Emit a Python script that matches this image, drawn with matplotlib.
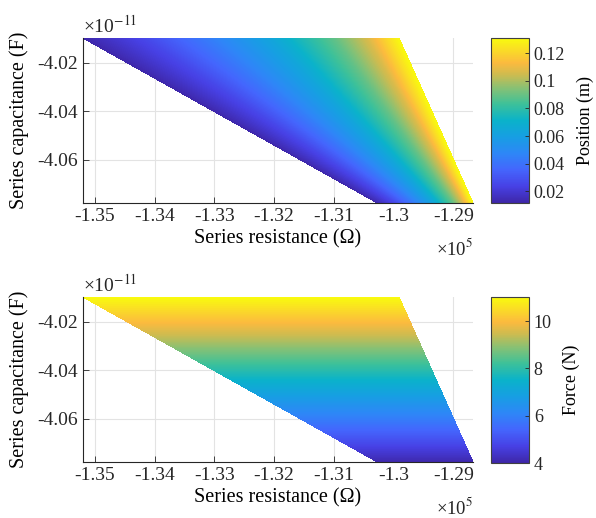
import numpy as np
import matplotlib
matplotlib.use("Agg")
import matplotlib.pyplot as plt
from matplotlib.colors import LinearSegmentedColormap, Normalize
from matplotlib.cm import ScalarMappable
from matplotlib.ticker import FuncFormatter, FormatStrFormatter

plt.rcParams['font.family'] = ['Liberation Serif', 'DejaVu Serif']
plt.rcParams['mathtext.fontset'] = 'stix'
plt.rcParams['axes.unicode_minus'] = False

# corners of the feasible region (series resistance, ohm)
res_top = [-1.3520e5, -1.2991e5]      # left / right end at the top capacitance
res_bottom = [-1.3027e5, -1.2867e5]   # left / right end at the bottom capacitance
cap_rows = [-4.0097e-11, -4.0267e-11, -4.0437e-11, -4.0608e-11, -4.0778e-11]
col_frac = [0.0, 0.2, 0.4, 0.6, 0.8, 0.9, 1.0]   # fraction across the region

position = [0.012, 0.026, 0.044, 0.064, 0.089, 0.106, 0.130]   # m, per column
force = [11.0, 9.3, 7.5, 5.8, 4.05]                             # N, per row

pos_clim = [0.0115, 0.131]
force_clim = [4.0, 11.02]
pos_ticks = [0.02, 0.04, 0.06, 0.08, 0.1, 0.12]
force_ticks = [4, 6, 8, 10]
xticks = [-1.35e5, -1.34e5, -1.33e5, -1.32e5, -1.31e5, -1.30e5, -1.29e5]
yticks = [-4.06e-11, -4.04e-11, -4.02e-11]
x_scale, y_scale = 1e5, 1e-11

# parula
parula_pos = [0.0, 0.1, 0.2, 0.3, 0.4, 0.5, 0.6, 0.7, 0.78, 0.85, 0.92, 1.0]
parula_rgb = [(0.2422, 0.1504, 0.6603), (0.2780, 0.2540, 0.8970), (0.2670, 0.3973, 0.9924),
              (0.1786, 0.5289, 0.9682), (0.0900, 0.6200, 0.8900), (0.0400, 0.7000, 0.7900),
              (0.2400, 0.7550, 0.6000), (0.5400, 0.7550, 0.4500), (0.8100, 0.7350, 0.3100),
              (0.9850, 0.7300, 0.2450), (0.9800, 0.8500, 0.1600), (0.9763, 0.9831, 0.0538)]
parula = LinearSegmentedColormap.from_list('parula', list(zip(parula_pos, parula_rgb)))

# mesh of the region
C = np.array(cap_rows)
s = (C[0] - C) / (C[0] - C[-1])
left = res_top[0] + s * (res_bottom[0] - res_top[0])
right = res_top[1] + s * (res_bottom[1] - res_top[1])
X = left[:, None] + (right - left)[:, None] * np.array(col_frac)[None, :]
Y = np.repeat(C[:, None], len(col_frac), axis=1)
Z_pos = np.tile(np.array(position), (len(cap_rows), 1))
Z_force = np.tile(np.array(force)[:, None], (1, len(col_frac)))

W, H = 596, 518
fig = plt.figure(figsize=(W / 100, H / 100), dpi=100)
ax1 = fig.add_axes([83 / W, 1 - 203 / H, 390 / W, 165 / H])
cax1 = fig.add_axes([491 / W, 1 - 203 / H, 38 / W, 165 / H])
ax2 = fig.add_axes([83 / W, 1 - 462 / H, 390 / W, 165 / H])
cax2 = fig.add_axes([491 / W, 1 - 463 / H, 38 / W, 166 / H])


def draw_panel(ax, cax, Z, clim, cticks, clabel):
    norm = Normalize(clim[0], clim[1])
    ax.contourf(X, Y, Z, levels=np.linspace(clim[0], clim[1], 256),
                cmap=parula, norm=norm, zorder=2)
    ax.set_xlim(res_top[0], res_bottom[1])
    ax.set_ylim(cap_rows[-1], cap_rows[0])
    ax.set_xticks(xticks)
    ax.set_yticks(yticks)
    ax.xaxis.set_major_formatter(FuncFormatter(lambda v, p: '%g' % round(v / x_scale, 4)))
    ax.yaxis.set_major_formatter(FuncFormatter(lambda v, p: '%.2f' % (v / y_scale)))
    ax.grid(True, color='#e3e3e3', linewidth=0.8)
    ax.set_axisbelow(True)
    ax.spines['top'].set_visible(False)
    ax.spines['right'].set_visible(False)
    for sp in ('left', 'bottom'):
        ax.spines[sp].set_color('#262626')
        ax.spines[sp].set_linewidth(0.8)
    ax.tick_params(direction='in', length=4, width=0.6, labelsize=14, colors='#262626')
    ax.text(0, 1.01, '×10$^{-11}$', transform=ax.transAxes, ha='left', va='bottom',
            fontsize=14, color='#262626')
    ax.text(1, -0.21, '×10$^{5}$', transform=ax.transAxes, ha='right', va='top',
            fontsize=13.5, color='#262626')
    ax.set_xlabel('Series resistance (Ω)', fontsize=14.5, labelpad=3)
    ax.set_ylabel('Series capacitance (F)', fontsize=14.5, labelpad=6)

    cb = fig.colorbar(ScalarMappable(norm=norm, cmap=parula), cax=cax)
    cb.set_ticks(cticks)
    cb.ax.yaxis.set_major_formatter(FormatStrFormatter('%g'))
    cb.ax.tick_params(direction='in', length=3, width=0.6, labelsize=13, colors='#262626')
    cb.outline.set_edgecolor('#404040')
    cb.outline.set_linewidth(0.8)
    cb.set_label(clabel, fontsize=13, labelpad=8)


draw_panel(ax1, cax1, Z_pos, pos_clim, pos_ticks, 'Position (m)')
draw_panel(ax2, cax2, Z_force, force_clim, force_ticks, 'Force (N)')

fig.savefig('out.png', dpi=100)
